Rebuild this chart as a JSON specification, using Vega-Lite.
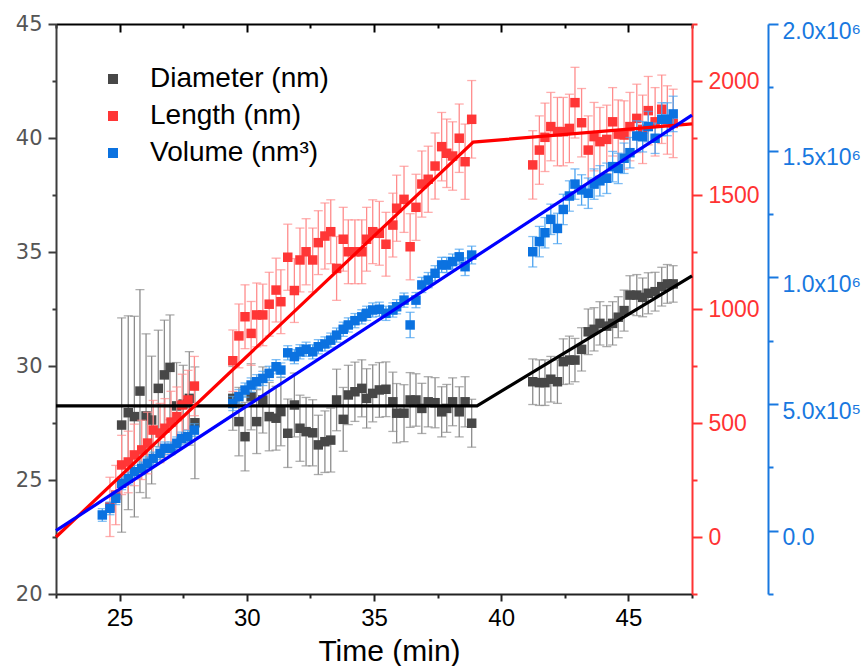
{
"$schema": "https://vega.github.io/schema/vega-lite/v6.json",
"width": 636, "height": 570,
"autosize": {"type": "none"},
"padding": {"left": 56, "top": 24, "right": 173, "bottom": 72},
"background": "white",
"config": {"view": {"stroke": null}, "font": "Liberation Sans",
  "legend": {"orient": "none", "legendX": 43, "legendY": 41, "title": null, "symbolType": "square", "symbolSize": 100, "labelFontSize": 28, "labelFont": "Liberation Sans", "labelColor": "#000000", "labelOffset": 23, "labelLimit": 0, "rowPadding": 9, "padding": 0, "symbolOpacity": 1, "symbolStrokeWidth": 0}},
"datasets": {
"dia": [
{"t":25.08,"v":27.41,"e":4.7},{"t":25.34,"v":27.95,"e":4.25},{"t":25.58,"v":27.78,"e":4.4},{"t":25.80,"v":28.90,"e":4.45},{"t":26.04,"v":27.81,"e":3.6},{"t":26.26,"v":27.63,"e":2.8},{"t":26.52,"v":29.02,"e":2.55},{"t":26.76,"v":29.61,"e":2.4},{"t":26.98,"v":29.94,"e":2.3},{"t":27.24,"v":28.25,"e":1.9},{"t":27.50,"v":28.33,"e":1.7},{"t":27.74,"v":28.58,"e":2.05},{"t":27.96,"v":27.51,"e":2.45},
{"t":29.45,"v":28.58,"e":1.4},{"t":29.69,"v":27.56,"e":1.5},{"t":29.93,"v":26.90,"e":1.5},{"t":30.17,"v":28.65,"e":1.45},{"t":30.39,"v":27.56,"e":1.4},{"t":30.63,"v":28.51,"e":1.45},{"t":30.88,"v":27.78,"e":1.5},{"t":31.15,"v":27.71,"e":1.4},{"t":31.34,"v":28.00,"e":1.5},{"t":31.61,"v":27.05,"e":1.5},{"t":31.87,"v":28.29,"e":1.4},{"t":32.09,"v":27.27,"e":1.45},{"t":32.33,"v":27.12,"e":1.5},{"t":32.59,"v":27.07,"e":1.45},{"t":32.81,"v":26.54,"e":1.3},{"t":33.07,"v":26.68,"e":1.35},{"t":33.30,"v":26.75,"e":1.4},{"t":33.53,"v":28.51,"e":1.35},{"t":33.79,"v":27.66,"e":1.4},{"t":33.99,"v":28.73,"e":1.3},{"t":34.25,"v":28.87,"e":1.3},{"t":34.52,"v":29.02,"e":1.25},{"t":34.71,"v":28.58,"e":1.3},{"t":34.95,"v":28.80,"e":1.25},{"t":35.21,"v":28.95,"e":1.2},{"t":35.47,"v":28.98,"e":1.2},{"t":35.74,"v":28.43,"e":1.3},{"t":35.89,"v":27.93,"e":1.3},{"t":36.18,"v":27.93,"e":1.25},{"t":36.42,"v":28.51,"e":1.2},{"t":36.65,"v":28.51,"e":1.15},{"t":36.88,"v":28.14,"e":1.1},{"t":37.13,"v":28.43,"e":1.1},{"t":37.40,"v":28.39,"e":1.1},{"t":37.66,"v":27.99,"e":1.1},{"t":37.86,"v":28.14,"e":1.05},{"t":38.09,"v":28.43,"e":1.05},{"t":38.35,"v":27.99,"e":1.1},{"t":38.58,"v":28.43,"e":1.1},{"t":38.84,"v":27.49,"e":1.05},
{"t":41.24,"v":29.31,"e":1.0},{"t":41.50,"v":29.27,"e":1.0},{"t":41.72,"v":29.27,"e":1.0},{"t":41.95,"v":29.42,"e":1.0},{"t":42.21,"v":29.31,"e":0.95},{"t":42.44,"v":30.19,"e":1.0},{"t":42.68,"v":30.26,"e":1.05},{"t":42.90,"v":30.26,"e":0.95},{"t":43.16,"v":30.73,"e":0.95},{"t":43.42,"v":31.50,"e":1.0},{"t":43.65,"v":31.61,"e":0.95},{"t":43.88,"v":31.87,"e":0.95},{"t":44.15,"v":31.75,"e":0.9},{"t":44.38,"v":31.87,"e":0.95},{"t":44.60,"v":32.14,"e":0.9},{"t":44.83,"v":32.43,"e":0.9},{"t":45.06,"v":33.11,"e":0.85},{"t":45.33,"v":33.11,"e":0.9},{"t":45.56,"v":33.01,"e":0.85},{"t":45.78,"v":33.19,"e":0.9},{"t":46.05,"v":33.26,"e":0.85},{"t":46.31,"v":33.48,"e":0.85},{"t":46.53,"v":33.60,"e":0.85},{"t":46.76,"v":33.60,"e":0.8}
],
"len": [
{"t":24.62,"v":132,"e":130},{"t":24.85,"v":184,"e":130},{"t":25.08,"v":316,"e":130},{"t":25.34,"v":329,"e":135},{"t":25.58,"v":360,"e":135},{"t":25.87,"v":382,"e":130},{"t":26.10,"v":412,"e":135},{"t":26.32,"v":469,"e":130},{"t":26.59,"v":456,"e":130},{"t":26.78,"v":477,"e":130},{"t":27.02,"v":504,"e":135},{"t":27.25,"v":528,"e":130},{"t":27.46,"v":579,"e":135},{"t":27.69,"v":601,"e":130},{"t":27.94,"v":662,"e":130},
{"t":29.45,"v":773,"e":135},{"t":29.69,"v":882,"e":140},{"t":29.93,"v":966,"e":140},{"t":30.17,"v":893,"e":140},{"t":30.39,"v":974,"e":140},{"t":30.63,"v":974,"e":135},{"t":30.88,"v":1021,"e":140},{"t":31.15,"v":1083,"e":140},{"t":31.34,"v":1032,"e":140},{"t":31.61,"v":1227,"e":145},{"t":31.87,"v":1081,"e":140},{"t":32.09,"v":1215,"e":140},{"t":32.33,"v":1251,"e":145},{"t":32.59,"v":1215,"e":140},{"t":32.81,"v":1291,"e":140},{"t":33.07,"v":1320,"e":145},{"t":33.30,"v":1339,"e":140},{"t":33.53,"v":1178,"e":140},{"t":33.79,"v":1306,"e":140},{"t":33.99,"v":1251,"e":140},{"t":34.25,"v":1251,"e":140},{"t":34.52,"v":1251,"e":140},{"t":34.71,"v":1306,"e":140},{"t":34.95,"v":1339,"e":140},{"t":35.21,"v":1332,"e":140},{"t":35.47,"v":1284,"e":140},{"t":35.74,"v":1368,"e":140},{"t":35.89,"v":1442,"e":145},{"t":36.18,"v":1481,"e":145},{"t":36.42,"v":1273,"e":145},{"t":36.65,"v":1446,"e":145},{"t":36.88,"v":1548,"e":145},{"t":37.13,"v":1569,"e":145},{"t":37.40,"v":1627,"e":145},{"t":37.66,"v":1712,"e":150},{"t":37.86,"v":1683,"e":150},{"t":38.09,"v":1671,"e":150},{"t":38.35,"v":1749,"e":150},{"t":38.58,"v":1646,"e":165},{"t":38.84,"v":1832,"e":170},
{"t":41.24,"v":1632,"e":150},{"t":41.50,"v":1697,"e":150},{"t":41.72,"v":1753,"e":150},{"t":41.95,"v":1800,"e":150},{"t":42.21,"v":1778,"e":150},{"t":42.44,"v":1778,"e":150},{"t":42.68,"v":1792,"e":150},{"t":42.90,"v":1905,"e":155},{"t":43.16,"v":1817,"e":150},{"t":43.42,"v":1697,"e":150},{"t":43.65,"v":1756,"e":150},{"t":43.88,"v":1734,"e":150},{"t":44.15,"v":1744,"e":150},{"t":44.38,"v":1821,"e":150},{"t":44.60,"v":1767,"e":150},{"t":44.83,"v":1763,"e":150},{"t":45.06,"v":1800,"e":150},{"t":45.33,"v":1836,"e":150},{"t":45.56,"v":1788,"e":150},{"t":45.78,"v":1870,"e":150},{"t":46.05,"v":1821,"e":150},{"t":46.31,"v":1876,"e":150},{"t":46.53,"v":1829,"e":150},{"t":46.76,"v":1814,"e":150}
],
"vol": [
{"t":24.32,"v":62000,"e":25000},{"t":24.62,"v":88000,"e":25000},{"t":24.85,"v":128000,"e":25000},{"t":25.08,"v":187000,"e":25000},{"t":25.34,"v":206000,"e":25000},{"t":25.58,"v":233000,"e":25000},{"t":25.87,"v":246000,"e":25000},{"t":26.10,"v":266000,"e":25000},{"t":26.32,"v":285000,"e":25000},{"t":26.59,"v":305000,"e":25000},{"t":26.78,"v":325000,"e":25000},{"t":27.02,"v":325000,"e":25000},{"t":27.25,"v":345000,"e":25000},{"t":27.44,"v":364000,"e":25000},{"t":27.68,"v":371000,"e":25000},{"t":27.94,"v":397000,"e":25000},
{"t":29.45,"v":502000,"e":28000},{"t":29.69,"v":529000,"e":28000},{"t":29.93,"v":555000,"e":28000},{"t":30.17,"v":575000,"e":28000},{"t":30.39,"v":588000,"e":28000},{"t":30.63,"v":601000,"e":28000},{"t":30.88,"v":621000,"e":28000},{"t":31.15,"v":647000,"e":28000},{"t":31.34,"v":634000,"e":28000},{"t":31.61,"v":702000,"e":28000},{"t":31.87,"v":687000,"e":28000},{"t":32.09,"v":706000,"e":28000},{"t":32.33,"v":716000,"e":28000},{"t":32.59,"v":706000,"e":28000},{"t":32.81,"v":726000,"e":28000},{"t":33.07,"v":737000,"e":28000},{"t":33.30,"v":752000,"e":28000},{"t":33.53,"v":772000,"e":28000},{"t":33.79,"v":795000,"e":28000},{"t":33.99,"v":812000,"e":28000},{"t":34.25,"v":829000,"e":28000},{"t":34.52,"v":844000,"e":28000},{"t":34.71,"v":858000,"e":28000},{"t":34.95,"v":871000,"e":28000},{"t":35.21,"v":874000,"e":28000},{"t":35.47,"v":858000,"e":28000},{"t":35.74,"v":871000,"e":28000},{"t":35.89,"v":884000,"e":28000},{"t":36.18,"v":910000,"e":28000},{"t":36.42,"v":812000,"e":50000},{"t":36.65,"v":910000,"e":30000},{"t":36.88,"v":970000,"e":30000},{"t":37.13,"v":989000,"e":30000},{"t":37.40,"v":1016000,"e":30000},{"t":37.66,"v":1049000,"e":30000},{"t":37.86,"v":1049000,"e":30000},{"t":38.09,"v":1062000,"e":30000},{"t":38.35,"v":1081000,"e":30000},{"t":38.58,"v":1042000,"e":35000},{"t":38.84,"v":1088000,"e":35000},
{"t":41.24,"v":1101000,"e":60000},{"t":41.50,"v":1141000,"e":60000},{"t":41.72,"v":1176000,"e":60000},{"t":41.95,"v":1229000,"e":60000},{"t":42.21,"v":1193000,"e":60000},{"t":42.44,"v":1268000,"e":60000},{"t":42.68,"v":1321000,"e":60000},{"t":42.90,"v":1368000,"e":60000},{"t":43.16,"v":1345000,"e":60000},{"t":43.42,"v":1332000,"e":60000},{"t":43.65,"v":1368000,"e":60000},{"t":43.88,"v":1381000,"e":60000},{"t":44.15,"v":1391000,"e":60000},{"t":44.38,"v":1437000,"e":60000},{"t":44.60,"v":1430000,"e":60000},{"t":44.83,"v":1470000,"e":60000},{"t":45.06,"v":1492000,"e":60000},{"t":45.33,"v":1558000,"e":60000},{"t":45.56,"v":1555000,"e":60000},{"t":45.78,"v":1595000,"e":60000},{"t":46.05,"v":1549000,"e":60000},{"t":46.31,"v":1624000,"e":65000},{"t":46.53,"v":1624000,"e":65000},{"t":46.76,"v":1645000,"e":70000}
],
"fdia": [{"t":22.5,"v":28.25},{"t":39.05,"v":28.25},{"t":47.5,"v":33.95}],
"flen": [{"t":22.5,"v":0},{"t":38.9,"v":1732},{"t":47.5,"v":1812}],
"fvol": [{"t":22.5,"v":0},{"t":47.5,"v":1640000}]
},
"layer": [
{
 "data": {"name": "dia"},
 "encoding": {
  "x": {"field": "t", "type": "quantitative", "scale": {"domain": [22.5, 47.5], "nice": false, "zero": false},
   "axis": {"orient": "bottom", "values": [22.5,25,27.5,30,32.5,35,37.5,40,42.5,45,47.5], "labelExpr": "datum.value % 5 === 0 ? format(datum.value, 'd') : ''", "tickSize": {"condition": {"test": "datum.value % 5 === 0", "value": 7}, "value": 4}, "tickWidth": 2, "domainWidth": 2, "domainColor": "#222222", "tickColor": "#222222", "labelColor": "#000000", "labelFont": "Liberation Sans", "labelFontSize": 24, "labelPadding": 5, "labelOverlap": false, "labelFlush": false, "grid": false, "title": "Time (min)", "titleFont": "Liberation Sans", "titleFontSize": 30, "titleFontWeight": "normal", "titleColor": "#000000", "titleX": 333, "titleY": 66, "titleBaseline": "alphabetic", "titleAlign": "center"}},
  "y": {"field": "v", "type": "quantitative", "scale": {"domain": [20, 45], "nice": false, "zero": false},
   "axis": {"orient": "left", "values": [20,22.5,25,27.5,30,32.5,35,37.5,40,42.5,45], "labelExpr": "datum.value % 5 === 0 ? format(datum.value, 'd') : ''", "tickSize": {"condition": {"test": "datum.value % 5 === 0", "value": 8}, "value": 4}, "tickWidth": 2, "domainWidth": 2, "domainColor": "#3c3c3c", "tickColor": "#3c3c3c", "labelColor": "#555555", "labelFont": "DejaVu Sans", "labelFontSize": 21, "labelPadding": 6, "labelOverlap": false, "labelFlush": false, "grid": false, "title": null}}
 },
 "layer": [
  {"mark": {"type": "errorbar", "ticks": {"color": "#8c8c8c"}, "rule": {"color": "#8c8c8c"}, "size": 9, "thickness": 1.3}, "encoding": {"yError": {"field": "e"}}},
  {"mark": {"type": "point", "shape": "square", "filled": true, "size": 90, "opacity": 1}, "encoding": {"color": {"datum": "Diameter (nm)", "scale": {"domain": ["Diameter (nm)", "Length (nm)", "Volume (nm³)"], "range": ["#474747", "#ff3636", "#0b72e0"]}}}}
 ]
},
{
 "data": {"name": "len"},
 "encoding": {
  "x": {"field": "t", "type": "quantitative", "scale": {"domain": [22.5, 47.5], "nice": false, "zero": false},
   "axis": {"orient": "top", "values": [22.5,25,27.5,30,32.5,35,37.5,40,42.5,45,47.5], "labels": false, "tickSize": {"condition": {"test": "datum.value % 5 === 0", "value": -8}, "value": -4}, "tickWidth": 2, "domainWidth": 2, "domainColor": "#000000", "tickColor": "#000000", "grid": false, "title": null}},
  "y": {"field": "v", "type": "quantitative", "scale": {"domain": [-250, 2250], "nice": false, "zero": false},
   "axis": {"orient": "right", "values": [-250,0,250,500,750,1000,1250,1500,1750,2000,2250], "labelExpr": "datum.value % 500 === 0 ? format(datum.value, 'd') : ''", "tickSize": {"condition": {"test": "datum.value % 500 === 0", "value": 10}, "value": 5}, "tickWidth": 2, "domainWidth": 2, "domainColor": "#ff3333", "tickColor": "#ff3333", "labelColor": "#ff3333", "labelFont": "Liberation Sans", "labelFontSize": 23, "labelPadding": 6, "labelOverlap": false, "labelFlush": false, "grid": false, "title": null}}
 },
 "layer": [
  {"mark": {"type": "errorbar", "ticks": {"color": "#ff8c8c"}, "rule": {"color": "#ff8c8c"}, "size": 9, "thickness": 1.3}, "encoding": {"yError": {"field": "e"}}},
  {"mark": {"type": "point", "shape": "square", "filled": true, "size": 90, "opacity": 1}, "encoding": {"color": {"datum": "Length (nm)"}}}
 ]
},
{
 "data": {"name": "vol"},
 "encoding": {
  "x": {"field": "t", "type": "quantitative", "scale": {"domain": [22.5, 47.5], "nice": false, "zero": false}, "axis": null},
  "y": {"field": "v", "type": "quantitative", "scale": {"domain": [-250000, 2000000], "nice": false, "zero": false},
   "axis": {"orient": "right", "offset": 76, "values": [-250000,0,250000,500000,750000,1000000,1250000,1500000,1750000,2000000], "labelExpr": "datum.value === 0 ? '0.0' : (datum.value % 500000 !== 0 ? '' : (datum.value >= 1000000 ? format(datum.value/1000000, '.1f') + 'x10⁶' : format(datum.value/100000, '.1f') + 'x10⁵'))", "tickSize": {"condition": {"test": "datum.value % 500000 === 0", "value": 10}, "value": 5}, "tickWidth": 2, "domainWidth": 2, "domainColor": "#1878e0", "tickColor": "#1878e0", "labelColor": "#1878e0", "labelFont": "Liberation Sans", "labelFontSize": 23, "labelPadding": 4, "labelOffset": 7, "labelOverlap": false, "labelFlush": false, "grid": false, "title": null}}
 },
 "layer": [
  {"mark": {"type": "errorbar", "ticks": {"color": "#4aa3f0"}, "rule": {"color": "#4aa3f0"}, "size": 9, "thickness": 1.3}, "encoding": {"yError": {"field": "e"}}},
  {"mark": {"type": "point", "shape": "square", "filled": true, "size": 90, "opacity": 1}, "encoding": {"color": {"datum": "Volume (nm³)"}}}
 ]
},
{
 "data": {"name": "fdia"},
 "mark": {"type": "line", "color": "#000000", "strokeWidth": 3.2},
 "encoding": {
  "x": {"field": "t", "type": "quantitative", "scale": {"domain": [22.5, 47.5], "nice": false, "zero": false}, "axis": null},
  "y": {"field": "v", "type": "quantitative", "scale": {"domain": [20, 45], "nice": false, "zero": false}, "axis": null}
 }
},
{
 "data": {"name": "flen"},
 "mark": {"type": "line", "color": "#ff0000", "strokeWidth": 3.2},
 "encoding": {
  "x": {"field": "t", "type": "quantitative", "scale": {"domain": [22.5, 47.5], "nice": false, "zero": false}, "axis": null},
  "y": {"field": "v", "type": "quantitative", "scale": {"domain": [-250, 2250], "nice": false, "zero": false}, "axis": null}
 }
},
{
 "data": {"name": "fvol"},
 "mark": {"type": "line", "color": "#0000ff", "strokeWidth": 3.2},
 "encoding": {
  "x": {"field": "t", "type": "quantitative", "scale": {"domain": [22.5, 47.5], "nice": false, "zero": false}, "axis": null},
  "y": {"field": "v", "type": "quantitative", "scale": {"domain": [-250000, 2000000], "nice": false, "zero": false}, "axis": null}
 }
}
],
"resolve": {"scale": {"y": "independent"}, "axis": {"y": "independent", "x": "independent"}}
}
